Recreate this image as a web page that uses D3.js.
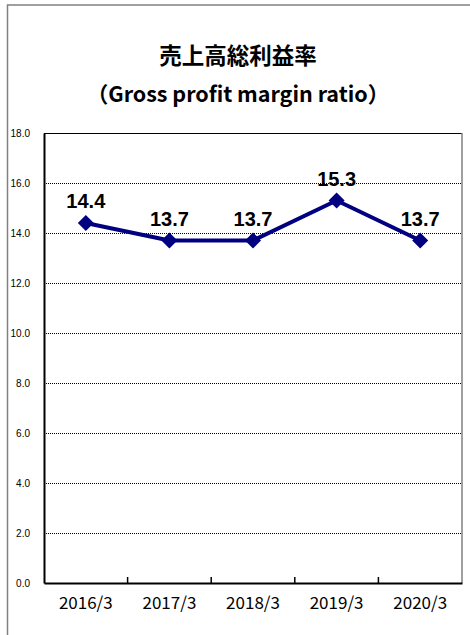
<!DOCTYPE html>
<html><head><meta charset="utf-8">
<script src="https://cdn.jsdelivr.net/npm/d3@7/dist/d3.min.js"></script>
<style>html,body{margin:0;padding:0;background:#fff;}svg{display:block;}</style>
</head><body>
<script>
const categories = ["2016/3","2017/3","2018/3","2019/3","2020/3"];
const values = [14.4, 13.7, 13.7, 15.3, 13.7];
const yTicks = [0,2,4,6,8,10,12,14,16,18];
const titleMain = "売上高総利益率";
const titleSub = "（Gross profit margin ratio）";

const W = 470, H = 635;
const svg = d3.select("body").append("svg").attr("width", W).attr("height", H);
svg.append("rect").attr("width", W).attr("height", H).attr("fill", "#fff");

// outer chart border
svg.append("rect").attr("x", 7.5).attr("y", 5).attr("width", 480).attr("height", 660)
  .attr("fill", "none").attr("stroke", "#808080").attr("stroke-width", 1.5);

const plot = {l: 44, r: 462, t: 133, b: 583};
const x = d3.scaleBand().domain(categories).range([plot.l, plot.r]).padding(0);
const y = d3.scaleLinear().domain([0, 18]).range([plot.b, plot.t]);

// title
svg.append("text").attr("x", 238).attr("y", 64).attr("text-anchor", "middle")
  .attr("font-family", "'Noto Sans CJK JP', sans-serif").attr("font-weight", "bold")
  .attr("font-size", 22.5).attr("fill", "#000").text(titleMain);
svg.append("text").attr("x", 238).attr("y", 102).attr("text-anchor", "middle")
  .attr("font-family", "'Noto Sans CJK JP', sans-serif").attr("font-weight", "bold")
  .attr("font-size", 21.5).attr("fill", "#000").text(titleSub);

// gridlines
svg.append("g").selectAll("line").data(yTicks.filter(d => d > 0 && d < 18)).join("line")
  .attr("x1", plot.l).attr("x2", plot.r)
  .attr("y1", d => Math.round(y(d)) + 0.5).attr("y2", d => Math.round(y(d)) + 0.5)
  .attr("stroke", "#000").attr("stroke-width", 1).attr("stroke-dasharray", "1,1");

// plot frame top/right
svg.append("line").attr("x1", plot.l).attr("x2", plot.r).attr("y1", plot.t + 0.5).attr("y2", plot.t + 0.5)
  .attr("stroke", "#000").attr("stroke-width", 1);
svg.append("line").attr("x1", plot.r).attr("x2", plot.r).attr("y1", plot.t).attr("y2", plot.b)
  .attr("stroke", "#808080").attr("stroke-width", 1.5);

// y axis
const yAxis = svg.append("g").attr("transform", `translate(${plot.l},0)`)
  .call(d3.axisLeft(y).tickValues(yTicks).tickFormat(d3.format(".1f")).tickSize(0).tickPadding(14));
yAxis.select(".domain").attr("stroke", "#000").attr("stroke-width", 2);
yAxis.selectAll("text").attr("font-family", "'Liberation Sans', Arial, sans-serif")
  .attr("font-size", 10).attr("fill", "#000");

// x axis
const xAxis = svg.append("g").attr("transform", `translate(0,${plot.b})`)
  .call(d3.axisBottom(x).tickSize(0).tickPadding(14));
xAxis.select(".domain").attr("stroke", "#000").attr("stroke-width", 2);
xAxis.selectAll("text").attr("font-family", "'Noto Sans CJK JP', sans-serif")
  .attr("font-size", 17).attr("fill", "#000");
// tick marks between categories
svg.append("g").selectAll("line").data(categories.slice(1)).join("line")
  .attr("x1", d => x(d)).attr("x2", d => x(d))
  .attr("y1", plot.b).attr("y2", plot.b - 6)
  .attr("stroke", "#000").attr("stroke-width", 1.5);

// line
const cx = d => x(d) + x.bandwidth() / 2;
const pts = categories.map((c, i) => [cx(c), y(values[i])]);
svg.append("path").attr("d", d3.line()(pts)).attr("fill", "none")
  .attr("stroke", "#000080").attr("stroke-width", 4).attr("stroke-linejoin", "round");

// markers
svg.append("g").selectAll("path").data(pts).join("path")
  .attr("transform", d => `translate(${d[0]},${d[1]})`)
  .attr("d", "M0,-8L8,0L0,8L-8,0Z").attr("fill", "#000080");

// labels
svg.append("g").selectAll("text").data(values).join("text")
  .attr("x", (d, i) => pts[i][0]).attr("y", (d, i) => pts[i][1] - 15)
  .attr("text-anchor", "middle")
  .attr("font-family", "'Liberation Sans', Arial, sans-serif")
  .attr("font-weight", "bold").attr("font-size", 20).attr("fill", "#000")
  .text(d => d3.format(".1f")(d));
</script>
</body></html>
